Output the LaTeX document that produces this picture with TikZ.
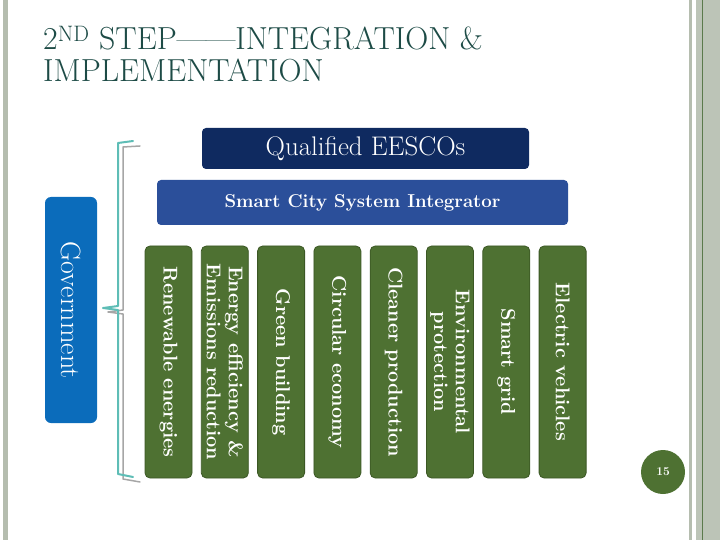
\documentclass[tikz,border=0pt]{standalone}
\usepackage{xcolor}
\definecolor{titleteal}{HTML}{1D4B46}
\definecolor{eesconavy}{HTML}{0F2A60}
\definecolor{scsiblue}{HTML}{2B4F9A}
\definecolor{govblue}{HTML}{0B6CBB}
\definecolor{colgreen}{HTML}{4E7132}
\definecolor{colborder}{HTML}{3B5724}
\definecolor{braceteal}{HTML}{5EBDB6}
\definecolor{framegray}{HTML}{B5BDAF}
\definecolor{framegreen}{HTML}{5B7A4C}
\begin{document}
\begin{tikzpicture}[x=1bp, y=-1bp, line join=round, line cap=round,
  column/.style={draw=colborder, fill=colgreen, line width=0.8bp, rounded corners=5bp,
    rotate=-90, minimum width=232bp, minimum height=47bp, inner sep=0pt,
    text=white, align=center, font=\fontsize{20}{22}\selectfont\bfseries},
  bar/.style={rounded corners=4bp, inner sep=0pt, text=white}]
\useasboundingbox (0,0) rectangle (720,540);
% slide frame
\fill[framegray] (3,0) rectangle (8,540);
\fill[framegray] (689,0) rectangle (692,540);
\fill[framegray!90!white] (696,0) rectangle (720,540);
\draw[framegreen, line width=1bp] (702,0) -- (702,540);
% title
\node[anchor=base west, inner sep=0pt, text=titleteal, font=\fontsize{32}{34}\selectfont] (title1) at (43,50)
  {2\textsuperscript{ND} STEP\textemdash\textemdash INTEGRATION \&};
\node[anchor=base west, inner sep=0pt, text=titleteal, font=\fontsize{32}{34}\selectfont] (title2) at (43,82)
  {IMPLEMENTATION};
% top bars
\node[bar, fill=eesconavy, minimum width=327bp, minimum height=41bp, font=\fontsize{27}{27}\selectfont] (eescos) at (365.5,148.5)
  {Qualified EESCOs};
\node[bar, fill=scsiblue, minimum width=411bp, minimum height=45bp, font=\fontsize{18.7}{19}\selectfont\bfseries] (integrator) at (362.5,202.5)
  {Smart City System Integrator};
% government
\node[bar, fill=govblue, rounded corners=6bp, rotate=-90, minimum width=226bp, minimum height=52bp, font=\fontsize{28}{28}\selectfont] (gov) at (71,310)
  {Government};
% the eight fields
\foreach \i/\txt in {1/{Renewable energies}, 2/{Energy efficiency \&\\Emissions reduction},
    3/{Green building}, 4/{Circular economy}, 5/{Cleaner production},
    6/{Environmental\\protection}, 7/{Smart grid}, 8/{Electric vehicles}}
  \node[column] (col\i) at ({168.5+(\i-1)*56.3},362) {\txt};
% brace
\draw[gray!70, line width=1.5bp] (140,146) -- (123,147) -- (123,310) -- (108,312) -- (123,314) -- (123,479) -- (140,482);
\draw[braceteal, line width=2bp] (133,141) -- (118,143) -- (118,306) -- (103,308) -- (118,310) -- (118,474) -- (133,477);
% page number
\node[circle, fill=colgreen, minimum size=44bp, inner sep=0pt, text=white, font=\fontsize{12}{12}\selectfont\bfseries] (pagenum) at (663,472) {15};
\end{tikzpicture}
\end{document}
